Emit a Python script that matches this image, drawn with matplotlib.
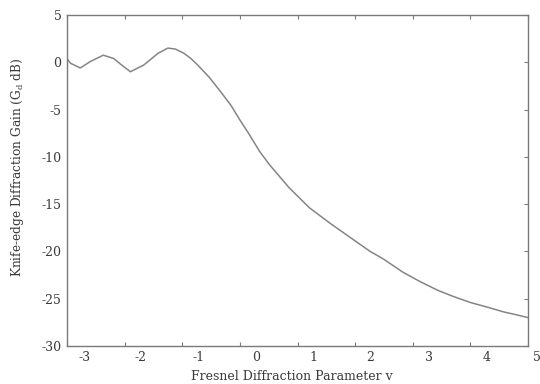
import matplotlib
matplotlib.use("Agg")
import matplotlib.pyplot as plt
import numpy as np

# Data
v_vals = [-3.0, -2.94, -2.77, -2.59, -2.37, -2.19, -2.05, -1.90, -1.67, -1.42, -1.25,
          -1.12, -0.97, -0.85, -0.73, -0.53, -0.31, -0.15, 0.0, 0.16, 0.34, 0.51,
          0.86, 1.21, 1.56, 1.91, 2.26, 2.49, 2.83, 3.13, 3.43, 3.72, 4.0, 4.3,
          4.58, 4.8, 5.0]
gain_db = [0.4, -0.1, -0.6, 0.1, 0.75, 0.4, -0.3, -1.0, -0.3, 0.95, 1.5,
           1.4, 0.95, 0.4, -0.3, -1.6, -3.3, -4.6, -6.1, -7.6, -9.4, -10.8,
           -13.3, -15.4, -17.0, -18.5, -20.0, -20.8, -22.2, -23.2, -24.1, -24.8, -25.4, -25.9,
           -26.4, -26.7, -27.0]

x_ticks = [-3, -2, -1, 0, 1, 2, 3, 4, 5]
x_tick_labels = ["-3", "-2", "-1", "0", "1", "2", "3", "4", "5"]
x_label_shift = [0.3, 0.28, 0.28, 0.28, 0.28, 0.26, 0.28, 0.28, 0.16]
y_ticks = [5, 0, -5, -10, -15, -20, -25, -30]
y_tick_labels = ["5", "0", "-5", "-10", "-15", "-20", "-25", "-30"]

plt.rcParams['font.family'] = ['DejaVu Serif']
plt.rcParams['mathtext.fontset'] = 'dejavuserif'

text_c = '#3a3a3a'
line_c = '#858585'
spine_c = '#7a7a7a'
fs = 9

fig = plt.figure(figsize=(5.4, 3.84), dpi=100)
ax = fig.add_axes([67/540, 1-346/384, (528-67)/540, (346-15)/384])

ax.plot(v_vals, gain_db, color=line_c, lw=1.1)

ax.set_xlim(-3, 5)
ax.set_ylim(-30, 5)

# tick marks at integer positions; labels printed slightly offset as in the scan
ax.set_xticks(x_ticks)
ax.set_xticklabels([""] * len(x_ticks))
ax.tick_params(axis='x', which='major', direction='in', length=3, top=True, color=spine_c)
for t, lab, sh in zip(x_ticks, x_tick_labels, x_label_shift):
    ax.text(t + sh, -0.016, lab, transform=ax.get_xaxis_transform(), ha='center', va='top',
            fontsize=fs, color=text_c, clip_on=False)

ax.set_yticks(y_ticks)
ax.set_yticklabels(y_tick_labels)
ax.tick_params(axis='y', direction='in', length=3, right=True, left=False, pad=4,
               labelsize=fs, labelcolor=text_c, color=spine_c)

for s in ax.spines.values():
    s.set_color(spine_c)
    s.set_linewidth(1.0)

ax.set_xlabel("Fresnel Diffraction Parameter v", fontsize=fs, color=text_c)
ax.xaxis.set_label_coords((292-67)/461, (346-370)/331)
ax.set_ylabel(r"Knife-edge Diffraction Gain (G$_\mathrm{d}$ dB)", fontsize=8.7, color=text_c)
ax.yaxis.set_label_coords((26-67)/461, (346-167)/331)

fig.savefig("out.png", dpi=100)
